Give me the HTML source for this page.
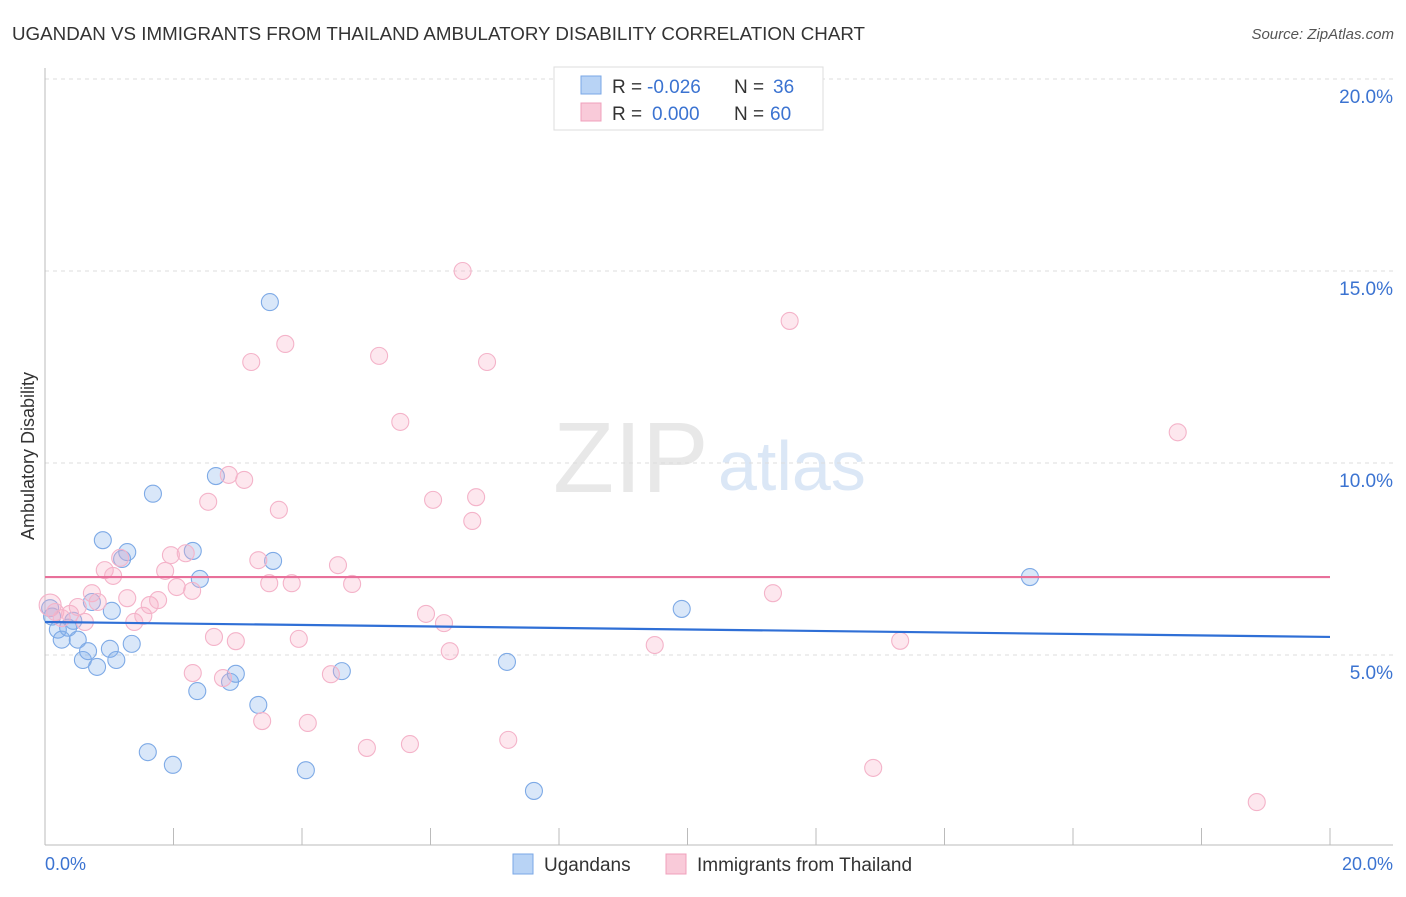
<!DOCTYPE html>
<html><head><meta charset="utf-8"><style>
body{margin:0;background:#fff;font-family:"Liberation Sans",sans-serif}
svg text{font-family:"Liberation Sans",sans-serif}
</style></head><body>
<svg id="c" width="1406" height="892" viewBox="0 0 1406 892" xmlns="http://www.w3.org/2000/svg">
<text x="12" y="40" font-size="18" fill="#333" textLength="853" lengthAdjust="spacingAndGlyphs">UGANDAN VS IMMIGRANTS FROM THAILAND AMBULATORY DISABILITY CORRELATION CHART</text>
<text x="1394" y="39" font-size="15" fill="#555" font-style="italic" text-anchor="end">Source: ZipAtlas.com</text>
<text x="553" y="492" font-size="100" fill="#e8e8e8" font-family="Liberation Serif">ZIP</text>
<text x="718" y="490" font-size="70" fill="#dbe7f6">atlas</text>
<g id="grid"></g>
<line x1="45" y1="68" x2="45" y2="845" stroke="#bbb"/>
<line x1="45" y1="845" x2="1393" y2="845" stroke="#bbb"/>
<g id="xt"></g>
<text x="45" y="870" font-size="18" fill="#3b73d1">0.0%</text>
<text x="1393" y="870" font-size="18" fill="#3b73d1" text-anchor="end">20.0%</text>
<text transform="translate(34,456) rotate(-90)" font-size="18" fill="#333" text-anchor="middle">Ambulatory Disability</text>
<g id="pts"></g>
<g id="trend"></g>
<g>
<rect x="554" y="67" width="269" height="63" fill="#fff" stroke="#ddd"/>
<rect x="581" y="76" width="20" height="18" fill="#b8d3f5" stroke="#7aa7e6"/>
<rect x="581" y="103" width="20" height="18" fill="#f9cad9" stroke="#f0a0bc"/>
<text x="612" y="93" font-size="19" fill="#333">R =</text>
<text x="647" y="93" font-size="19" fill="#3b73d1">-0.026</text>
<text x="734" y="93" font-size="19" fill="#333">N =</text>
<text x="773" y="93" font-size="19" fill="#3b73d1">36</text>
<text x="612" y="120" font-size="19" fill="#333">R =</text>
<text x="652" y="120" font-size="19" fill="#3b73d1">0.000</text>
<text x="734" y="120" font-size="19" fill="#333">N =</text>
<text x="770" y="120" font-size="19" fill="#3b73d1">60</text>
</g>
<g>
<rect x="513" y="854" width="20" height="20" fill="#b8d3f5" stroke="#7aa7e6"/>
<text x="544" y="871" font-size="19" fill="#333">Ugandans</text>
<rect x="666" y="854" width="20" height="20" fill="#f9cad9" stroke="#f0a0bc"/>
<text x="697" y="871" font-size="19" fill="#333">Immigrants from Thailand</text>
</g>
</svg>
<script>
const yTicks=[5,10,15,20];
const xTickCount=10;
const blueX=[0.08,0.11,0.2,0.26,0.36,0.44,0.51,0.59,0.67,0.73,0.81,0.9,1.01,1.04,1.11,1.2,1.28,1.35,1.6,1.68,1.99,2.3,2.37,2.41,2.66,2.88,2.97,3.32,3.5,3.55,4.06,4.62,7.19,7.61,9.91,15.33];
const blueY=[6.22,6.0,5.66,5.4,5.71,5.89,5.4,4.87,5.1,6.38,4.69,7.99,5.16,6.15,4.87,7.5,7.68,5.29,2.47,9.2,2.14,7.71,4.06,6.98,9.66,4.3,4.51,3.7,14.19,7.45,2.0,4.58,4.82,1.46,6.2,7.03];
const pinkX=[0.08,0.16,0.26,0.39,0.51,0.62,0.73,0.82,0.93,1.06,1.17,1.28,1.39,1.53,1.63,1.76,1.87,1.96,2.05,2.19,2.29,2.3,2.54,2.63,2.77,2.86,2.97,3.1,3.21,3.32,3.38,3.49,3.64,3.74,3.84,3.95,4.09,4.45,4.56,4.78,5.01,5.2,5.53,5.68,5.93,6.04,6.21,6.3,6.5,6.65,6.71,6.88,7.21,9.49,11.33,11.59,12.89,13.31,17.63,18.86];
const pinkY=[6.3,6.12,5.96,6.07,6.25,5.86,6.61,6.38,7.21,7.06,7.53,6.48,5.86,6.02,6.3,6.43,7.19,7.6,6.77,7.65,6.67,4.53,8.99,5.47,4.4,9.69,5.36,9.56,12.63,7.47,3.28,6.87,8.78,13.1,6.87,5.42,3.23,4.5,7.34,6.85,2.58,12.79,11.07,2.68,6.07,9.04,5.83,5.1,15.0,8.49,9.11,12.63,2.79,5.26,6.61,13.7,2.06,5.37,10.8,1.17];
const blueTrend=[5.86,5.47];
const pinkTrend=[7.03,7.03];
const X0=45,X1=1330,Y0=847,PY=38.4;
const sx=v=>X0+(X1-X0)*v/20, sy=v=>Y0-v*PY;
const NS='http://www.w3.org/2000/svg';
function mk(t,p,a){const e=document.createElementNS(NS,t);for(const k in a)e.setAttribute(k,a[k]);p.appendChild(e);return e;}
const grid=document.getElementById('grid');
yTicks.forEach(v=>{
 const l=mk('line',grid,{x1:45,x2:1393,y1:sy(v),y2:sy(v),stroke:'#ddd','stroke-dasharray':'4,4'});
 
 
 const t=mk('text',grid,{x:1393,y:sy(v)+24,'font-size':19,fill:'#3b73d1','text-anchor':'end'});
 t.textContent=v.toFixed(1)+'%';
 
 
});
const xt=document.getElementById('xt');
for(let i=1;i<=xTickCount;i++){
 const x=sx(i*20/xTickCount);
 const l=mk('line',xt,{x1:x,x2:x,y1:828,y2:845,stroke:'#bbb'});
 
 
}
const pts=document.getElementById('pts');
blueX.forEach((v,i)=>{
 const c=mk('circle',pts,{cx:sx(v),cy:sy(blueY[i]),r:8.5,fill:'rgba(130,175,235,0.3)',stroke:'#7eaae6','stroke-width':1.1});
 
 
});
pinkX.forEach((v,i)=>{
 const c=mk('circle',pts,{cx:sx(v),cy:sy(pinkY[i]),r:i==0?11:8.5,fill:'rgba(248,175,200,0.3)',stroke:'#f4b3c9','stroke-width':1.1});
 
 
});
const tr=document.getElementById('trend');
const b=mk('line',tr,{x1:sx(0),x2:sx(20),y1:sy(blueTrend[0]),y2:sy(blueTrend[1]),stroke:'#2f6fd6','stroke-width':2.2});


const p=mk('line',tr,{x1:sx(0),x2:sx(20),y1:sy(pinkTrend[0]),y2:sy(pinkTrend[1]),stroke:'#e8709a','stroke-width':2.2});


</script>
</body></html>
